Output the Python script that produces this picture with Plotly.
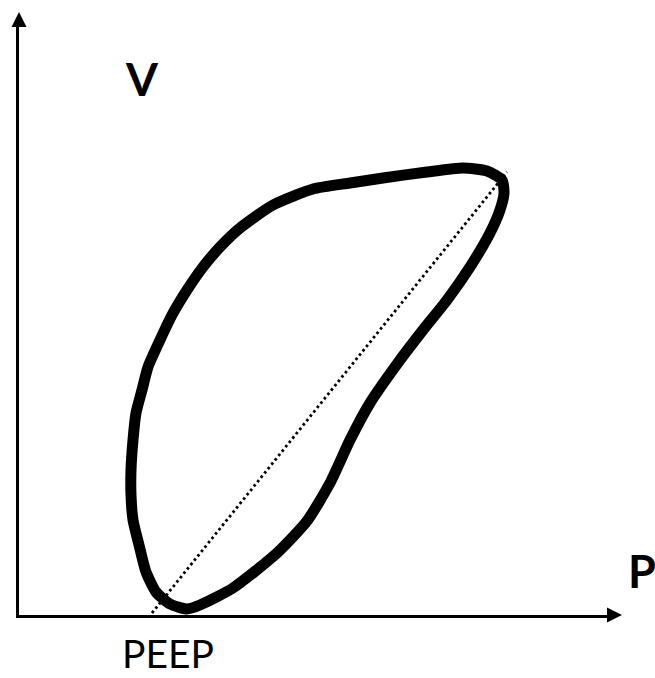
import plotly.graph_objects as go

# Pressure (P) and volume (V) of the loop, in chart units (origin at axis crossing)
loop_p = [168, 151, 137, 127, 120, 114, 112, 112, 114, 117, 123, 129, 141, 153, 168,
          184, 201, 221, 254, 294, 331, 364, 408, 444, 468, 483, 485, 481, 471, 451,
          428, 404, 381, 351, 331, 311, 288, 258, 214, 181, 168]
loop_v = [6, 11, 23, 43, 70, 95, 120, 145, 175, 202, 225, 248, 275, 300, 325,
          348, 368, 387, 410, 426, 432, 437, 443, 447, 444, 435, 422, 405, 382, 348,
          315, 285, 255, 212, 175, 132, 94, 62, 27, 10, 6]

# dotted chord between end-expiratory and end-inspiratory points
chord_p = [133, 488]
chord_v = [2, 443]

axis_max = 588

W, H = 655, 678
ml, mt = 19, 27
mb = H - mt - axis_max
mr = W - ml - axis_max
plot_w = axis_max
plot_h = axis_max

fig = go.Figure()
fig.add_trace(go.Scatter(x=chord_p, y=chord_v, mode="lines",
                         line=dict(color="black", width=2.8, dash="2.6px,3px"),
                         cliponaxis=False, hoverinfo="skip"))
fig.add_trace(go.Scatter(x=loop_p, y=loop_v, mode="lines",
                         line=dict(color="black", width=11, shape="spline", smoothing=0.6),
                         cliponaxis=False, hoverinfo="skip"))

# arrowheads in paper coords
head_len = 15.0
head_half = 7.5
xt = 1 + head_len / plot_w
yt = 1 + head_len / plot_h
shapes = [
    dict(type="path", xref="paper", yref="paper",
         path=f"M 1 {-head_half/plot_h} L {xt} 0 L 1 {head_half/plot_h} Z",
         fillcolor="black", line=dict(color="black", width=0)),
    dict(type="path", xref="paper", yref="paper",
         path=f"M {-head_half/plot_w} 1 L 0 {yt} L {head_half/plot_w} 1 Z",
         fillcolor="black", line=dict(color="black", width=0)),
]

annotations = [
    dict(text="<b>V</b>", xref="paper", yref="paper", x=(142 - ml) / plot_w,
         y=(615 - 78) / plot_h, showarrow=False, xanchor="center", yanchor="middle",
         font=dict(family="Lato", size=46, color="black")),
    dict(text="<b>P</b>", xref="paper", yref="paper", x=(642 - ml) / plot_w,
         y=(615 - 571) / plot_h, showarrow=False, xanchor="center", yanchor="middle",
         font=dict(family="Lato", size=45, color="black")),
    dict(text="PEEP", xref="paper", yref="paper", x=(168 - ml) / plot_w,
         y=(615 - 678) / plot_h, showarrow=False, xanchor="center", yanchor="bottom",
         font=dict(family="Lato", size=39, color="black")),
]

fig.update_layout(
    width=W, height=H, autosize=False,
    margin=dict(l=ml, r=mr, t=mt, b=mb, pad=0),
    paper_bgcolor="white", plot_bgcolor="white",
    showlegend=False,
    shapes=shapes, annotations=annotations,
    xaxis=dict(range=[0, axis_max], showgrid=False, zeroline=False, showticklabels=False,
               ticks="", showline=True, linecolor="black", linewidth=3, fixedrange=True),
    yaxis=dict(range=[0, axis_max], showgrid=False, zeroline=False, showticklabels=False,
               ticks="", showline=True, linecolor="black", linewidth=3, fixedrange=True),
)

fig.write_html("out.html", config=dict(displayModeBar=False),
               post_script="document.body.style.margin='0';document.body.style.overflow='hidden';")
